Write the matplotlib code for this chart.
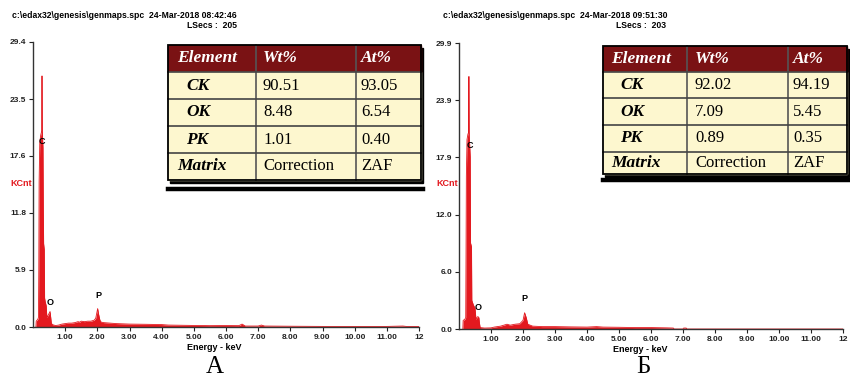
import numpy as np
import matplotlib
matplotlib.use("Agg")
import matplotlib.pyplot as plt
from matplotlib.patches import Rectangle

plt.rcParams['font.family'] = ['Liberation Sans', 'DejaVu Sans']

RED = '#e3191f'

# spectrum A (energy keV, counts kCnt)
energy_a = [0.09, 0.10, 0.15, 0.17, 0.18, 0.19, 0.21, 0.24, 0.27, 0.28, 0.29, 0.31, 0.32,
            0.33, 0.35, 0.36, 0.38, 0.41, 0.43, 0.45, 0.50, 0.53, 0.55, 0.57, 0.60, 0.70,
            0.80, 0.90, 1.00, 1.10, 1.20, 1.30, 1.40, 1.45, 1.50, 1.60, 1.70, 1.80, 1.90,
            1.95, 1.98, 2.01, 2.04, 2.08, 2.12, 2.20, 2.40, 2.60, 3.00, 3.50, 4.00, 4.20,
            4.60, 5.00, 5.50, 6.00, 6.40, 6.50, 6.60, 7.00, 7.10, 7.20, 8.00, 9.00, 10.00,
            11.00, 11.50, 11.60, 12.00]
counts_a = [0.0, 0.6, 0.8, 1.0, 6.0, 15.0, 19.0, 19.8, 20.2, 25.9, 20.0, 18.5, 12.0,
            8.6, 8.0, 3.0, 2.6, 2.2, 1.0, 1.1, 1.4, 1.6, 1.0, 0.4, 0.25, 0.15,
            0.2, 0.3, 0.35, 0.4, 0.4, 0.45, 0.55, 0.5, 0.6, 0.55, 0.6, 0.6, 0.7,
            0.9, 1.4, 1.9, 1.3, 0.7, 0.5, 0.45, 0.4, 0.35, 0.3, 0.28, 0.25, 0.2,
            0.18, 0.16, 0.14, 0.15, 0.14, 0.3, 0.1, 0.1, 0.2, 0.1, 0.08, 0.06, 0.06,
            0.06, 0.1, 0.06, 0.06]

# spectrum B
energy_b = [0.12, 0.13, 0.18, 0.21, 0.22, 0.23, 0.25, 0.28, 0.30, 0.31, 0.32, 0.35, 0.36,
            0.39, 0.40, 0.45, 0.50, 0.53, 0.56, 0.59, 0.62, 0.64, 0.66, 0.80, 1.00, 1.10,
            1.30, 1.45, 1.50, 1.60, 1.75, 1.90, 2.00, 2.05, 2.10, 2.15, 2.30, 2.60, 3.00,
            3.50, 4.00, 4.30, 4.50, 5.00, 5.50, 6.00, 6.50, 6.70, 6.72, 7.00, 7.02, 7.10,
            7.12, 12.00]
counts_b = [0.0, 0.9, 1.0, 1.2, 8.0, 16.0, 19.8, 20.4, 20.5, 26.4, 20.2, 18.0, 9.0,
            8.6, 3.0, 2.5, 2.2, 1.0, 1.2, 1.3, 1.2, 0.6, 0.15, 0.1, 0.12, 0.2,
            0.3, 0.45, 0.5, 0.4, 0.5, 0.55, 0.9, 1.7, 1.2, 0.5, 0.3, 0.25, 0.25,
            0.22, 0.2, 0.25, 0.2, 0.18, 0.15, 0.15, 0.12, 0.1, 0.0, 0.0, 0.1, 0.1,
            0.0, 0.0]

xtick_vals = list(range(1, 13))
xtick_labels = ['1.00', '2.00', '3.00', '4.00', '5.00', '6.00', '7.00', '8.00',
                '9.00', '10.00', '11.00', '12']
ytick_a = ['0.0', '5.9', '11.8', '17.6', '23.5', '29.4']
ytick_b = ['0.0', '6.0', '12.0', '17.9', '23.9', '29.9']
ymax_a = 29.4
ymax_b = 29.9

peaks = ['C', 'O', 'P']
peak_pos_a = [(0.28, 19.1), (0.53, 2.5), (2.03, 3.3)]
peak_pos_b = [(0.34, 19.2), (0.59, 2.3), (2.04, 3.2)]

table_head = ['Element', 'Wt%', 'At%']
elements = ['CK', 'OK', 'PK', 'Matrix']
wt_a = ['90.51', '8.48', '1.01', 'Correction']
at_a = ['93.05', '6.54', '0.40', 'ZAF']
wt_b = ['92.02', '7.09', '0.89', 'Correction']
at_b = ['94.19', '5.45', '0.35', 'ZAF']

W, H = 850, 379
fig = plt.figure(figsize=(W / 100, H / 100), dpi=100)


def px_rect(l, t, r, b):
    return [l / W, 1 - b / H, (r - l) / W, (b - t) / H]


def spectrum(rect, energy, counts, ymax, ylabels, pos):
    ax = fig.add_axes(px_rect(*rect))
    ax.fill_between(energy, counts, color=RED, lw=0)
    ax.plot(energy, counts, color=RED, lw=0.6)
    ax.set_xlim(0, 12)
    ax.set_ylim(0, ymax)
    ax.set_xticks(xtick_vals)
    ax.set_xticklabels(xtick_labels)
    ax.set_yticks(np.linspace(0, ymax, 6))
    ax.set_yticklabels(ylabels)
    for s in ['top', 'right']:
        ax.spines[s].set_visible(False)
    for s in ['left', 'bottom']:
        ax.spines[s].set_color('#333333')
        ax.spines[s].set_linewidth(1.0)
    ax.tick_params(length=3, width=0.8, labelsize=6, pad=2, colors='#222222')
    for lab in ax.get_xticklabels() + ax.get_yticklabels():
        lab.set_fontweight('bold')
    ax.patch.set_alpha(0)
    for name, (x, y) in zip(peaks, pos):
        ax.text(x, y, name, fontsize=6.5, fontweight='bold', ha='center', va='center')
    return ax


spectrum((33, 42, 419, 327), energy_a, counts_a, ymax_a, ytick_a, peak_pos_a)
spectrum((459, 43, 843, 329), energy_b, counts_b, ymax_b, ytick_b, peak_pos_b)

# overlay in pixel coordinates for headers and tables
ov = fig.add_axes([0, 0, 1, 1])
ov.set_xlim(0, W)
ov.set_ylim(H, 0)
ov.axis('off')
ov.patch.set_alpha(0)

head_kw = dict(fontsize=6.2, fontweight='bold', va='center')
ov.text(12, 15, 'c:\\edax32\\genesis\\genmaps.spc  24-Mar-2018 08:42:46', **head_kw)
ov.text(237, 25, 'LSecs :  205', ha='right', **head_kw)
ov.text(443, 15, 'c:\\edax32\\genesis\\genmaps.spc  24-Mar-2018 09:51:30', **head_kw)
ov.text(666, 25, 'LSecs :  203', ha='right', **head_kw)

ov.text(21, 183, 'KCnt', color=RED, fontsize=6.5, fontweight='bold', ha='center', va='center')
ov.text(447, 183, 'KCnt', color=RED, fontsize=6.5, fontweight='bold', ha='center', va='center')
ov.text(214, 348, 'Energy - keV', fontsize=6.5, fontweight='bold', ha='center', va='center')
ov.text(640, 350, 'Energy - keV', fontsize=6.5, fontweight='bold', ha='center', va='center')
ov.text(215, 367, 'A', fontsize=18, family='Liberation Serif', ha='center', va='center')
ov.text(643, 367, 'Б', fontsize=18, family='Liberation Serif', ha='center', va='center')


def draw_table(cols, rows, wt, at, pads, line_y):
    x0, x1 = cols[0], cols[-1]
    y0, y1 = rows[0], rows[-1]
    ov.add_patch(Rectangle((x0 + 2.5, y0 + 2.5), x1 - x0, y1 - y0, color='black', zorder=2))
    ov.add_patch(Rectangle((x0, y0), x1 - x0, rows[1] - y0, color='#7a1214', zorder=3))
    ov.add_patch(Rectangle((x0, rows[1]), x1 - x0, y1 - rows[1], color='#fdf7cf', zorder=3))
    for c in cols[1:-1]:
        ov.plot([c, c], [y0, y1], color='#555555', lw=1.2, zorder=4)
    for r in rows[1:-1]:
        ov.plot([x0, x1], [r, r], color='#444444', lw=1.2, zorder=4)
    ov.add_patch(Rectangle((x0, y0), x1 - x0, y1 - y0, fill=False, ec='black', lw=1.3, zorder=5))
    ov.plot([x0, x1 + 2], [line_y, line_y], color='black', lw=3.2, zorder=5)

    serif = 'Liberation Serif'
    yc = (rows[0] + rows[1]) / 2
    for i, txt in enumerate(table_head):
        ov.text(cols[i] + pads[i], yc, txt, color='white', fontsize=12.5, family=serif,
                fontweight='bold', style='italic', va='center', zorder=6)
    for j, el in enumerate(elements):
        yc = (rows[j + 1] + rows[j + 2]) / 2
        dx = pads[0] if el == 'Matrix' else pads[0] + 9
        ov.text(cols[0] + dx, yc, el, fontsize=12.5, family=serif, fontweight='bold',
                style='italic', va='center', zorder=6)
        ov.text(cols[1] + pads[1], yc, wt[j], fontsize=12, family=serif, va='center', zorder=6)
        ov.text(cols[2] + pads[2], yc, at[j], fontsize=12, family=serif, va='center', zorder=6)


draw_table([168, 256, 356, 421], [45, 72, 99, 126, 153, 180], wt_a, at_a, (9, 7, 5), 189)
draw_table([603, 687, 788, 847], [46, 72, 98, 125, 152, 174], wt_b, at_b, (8, 8, 5), 180)

fig.savefig('out.png', dpi=100)
